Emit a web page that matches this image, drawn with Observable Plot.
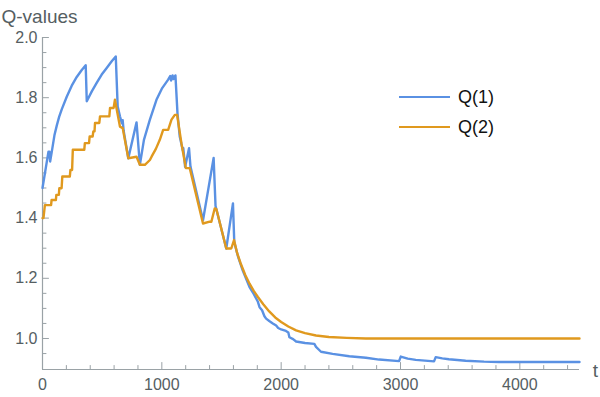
<!DOCTYPE html>
<html><head><meta charset="utf-8">
<script src="https://cdn.jsdelivr.net/npm/d3@7"></script>
<script src="https://cdn.jsdelivr.net/npm/@observablehq/plot@0.6"></script>
<style>
body{margin:0;background:#fff;}
#wrap{position:relative;width:600px;height:397px;}
.legend{position:absolute;left:399px;top:82px;font:18px "Liberation Sans",Arial,sans-serif;color:#111;}
.legend .row{display:flex;align-items:center;height:30px;}
.legend .sw{display:inline-block;width:51px;height:0;border-top:2.5px solid;margin-right:8px;}
</style></head><body><div id="wrap"></div>
<script>
const seriesNames = ["Q(1)", "Q(2)"];
const seriesColors = ["#5a91e3", "#e0991e"];
const yTitle = ["Q-values"];
const xTitle = ["t"];
const xDomain = [0, 4500];
const yDomain = [0.897, 2.0];
const xMajor = [0, 1000, 2000, 3000, 4000];
const xMinor = [200,400,600,800,1200,1400,1600,1800,2200,2400,2600,2800,3200,3400,3600,3800,4200,4400];
const yMajor = [1.0, 1.2, 1.4, 1.6, 1.8, 2.0];
const yMinor = [0.95,1.05,1.1,1.15,1.25,1.3,1.35,1.45,1.5,1.55,1.65,1.7,1.75,1.85,1.9,1.95];

const q1 = [[0,1.50],[50,1.621],[58,1.621],[64,1.588],[78,1.621],[100,1.675],[120,1.708],[140,1.737],[162,1.762],[204,1.804],[245,1.840],[287,1.869],[329,1.892],[362,1.908],[371,1.788],[413,1.821],[454,1.849],[496,1.877],[538,1.899],[580,1.921],[614,1.937],[630,1.771],[649,1.738],[665,1.715],[672,1.725],[680,1.69],[719,1.599],[788,1.718],[816,1.577],[850,1.66],[900,1.727],[955,1.793],[1000,1.83],[1053,1.86],[1070,1.872],[1078,1.857],[1090,1.874],[1098,1.862],[1114,1.874],[1131,1.749],[1150,1.671],[1176,1.625],[1180,1.632],[1195,1.57],[1228,1.632],[1240,1.571],[1345,1.393],[1434,1.60],[1450,1.44],[1540,1.299],[1596,1.449],[1607,1.32],[1640,1.27],[1679,1.225],[1735,1.171],[1770,1.148],[1805,1.122],[1819,1.104],[1840,1.094],[1860,1.074],[1874,1.066],[1900,1.058],[1930,1.05],[1958,1.043],[1975,1.035],[2000,1.03],[2040,1.025],[2060,1.02],[2069,1.004],[2100,0.998],[2125,0.99],[2200,0.985],[2278,0.982],[2292,0.972],[2334,0.956],[2431,0.949],[2571,0.941],[2710,0.936],[2821,0.93],[2988,0.925],[3002,0.94],[3060,0.933],[3128,0.929],[3281,0.924],[3295,0.938],[3350,0.934],[3406,0.931],[3546,0.926],[3700,0.923],[3825,0.922],[4500,0.922]];

const q2 = [[0,1.40],[8,1.40],[20,1.443],[72,1.443],[76,1.46],[112,1.46],[116,1.477],[137,1.477],[141,1.499],[160,1.499],[166,1.538],[229,1.538],[234,1.56],[248,1.56],[254,1.627],[350,1.627],[355,1.649],[390,1.649],[395,1.671],[420,1.671],[426,1.688],[436,1.688],[440,1.716],[476,1.716],[482,1.738],[560,1.738],[566,1.766],[596,1.766],[607,1.793],[649,1.704],[672,1.699],[719,1.599],[788,1.604],[816,1.577],[858,1.577],[900,1.593],[914,1.604],[950,1.63],[983,1.66],[1011,1.693],[1053,1.693],[1081,1.727],[1109,1.743],[1128,1.743],[1164,1.649],[1201,1.566],[1234,1.566],[1345,1.382],[1401,1.388],[1415,1.388],[1443,1.432],[1457,1.43],[1540,1.299],[1582,1.299],[1605,1.327],[1630,1.285],[1660,1.25],[1700,1.21],[1735,1.182],[1770,1.158],[1805,1.138],[1850,1.114],[1900,1.09],[1950,1.07],[2000,1.055],[2060,1.04],[2125,1.027],[2200,1.018],[2292,1.01],[2400,1.005],[2550,1.002],[2710,1.0],[3000,1.0],[4500,1.0]];

const axisColor = "#9aa2a6";
const textColor = "#555e62";
const font = '"Liberation Sans", Arial, sans-serif';
const tickShape = {draw(ctx, l) { ctx.moveTo(0, 0); ctx.lineTo(0, -l); }};

const chart = Plot.plot({
  width: 600, height: 397,
  marginLeft: 42, marginRight: 21, marginTop: 37, marginBottom: 28,
  x: {domain: xDomain},
  y: {domain: yDomain},
  style: {fontFamily: font, fontSize: "16px", color: textColor, background: "#fff", overflow: "visible"},
  marks: [
    Plot.ruleY([yDomain[0]], {stroke: axisColor, strokeWidth: 1.2}),
    Plot.ruleX([xDomain[0]], {stroke: axisColor, strokeWidth: 1.2}),
    Plot.axisX({ticks: xMajor, tickSize: 0, tickPadding: 9, tickFormat: d => String(d), label: null, fill: textColor}),
    Plot.axisY({ticks: yMajor, tickSize: 0, tickPadding: 5, tickFormat: d3.format(".1f"), label: null, fill: textColor}),
    Plot.vector(xMajor, {x: d => d, y: () => yDomain[0], length: 7, anchor: "start", rotate: 0, shape: tickShape, stroke: axisColor, strokeWidth: 1}),
    Plot.vector(xMinor, {x: d => d, y: () => yDomain[0], length: 4, anchor: "start", rotate: 0, shape: tickShape, stroke: axisColor, strokeWidth: 1}),
    Plot.vector(yMajor, {x: () => xDomain[0], y: d => d, length: 6, anchor: "start", rotate: 90, shape: tickShape, stroke: axisColor, strokeWidth: 1}),
    Plot.vector(yMinor, {x: () => xDomain[0], y: d => d, length: 3.5, anchor: "start", rotate: 90, shape: tickShape, stroke: axisColor, strokeWidth: 1}),
    Plot.line(q1, {x: d => d[0], y: d => d[1], stroke: seriesColors[0], strokeWidth: 2.4, curve: "linear"}),
    Plot.line(q2, {x: d => d[0], y: d => d[1], stroke: seriesColors[1], strokeWidth: 2.4, curve: "linear"}),
    Plot.text(yTitle, {text: d => d, frameAnchor: "top-left", textAnchor: "start", lineAnchor: "middle", dx: -41, dy: -21, fontSize: 19, fill: textColor}),
    Plot.text(xTitle, {text: d => d, frameAnchor: "bottom-right", textAnchor: "middle", lineAnchor: "middle", dx: 16, dy: 1, fontSize: 19, fill: textColor})
  ]
});
const wrap = document.getElementById("wrap");
wrap.appendChild(chart);
const legend = document.createElement("div");
legend.className = "legend";
seriesNames.forEach((n, i) => {
  const row = document.createElement("div");
  row.className = "row";
  const sw = document.createElement("span");
  sw.className = "sw";
  sw.style.borderColor = seriesColors[i];
  const lab = document.createElement("span");
  lab.textContent = n;
  row.appendChild(sw); row.appendChild(lab);
  legend.appendChild(row);
});
wrap.appendChild(legend);
</script></body></html>
